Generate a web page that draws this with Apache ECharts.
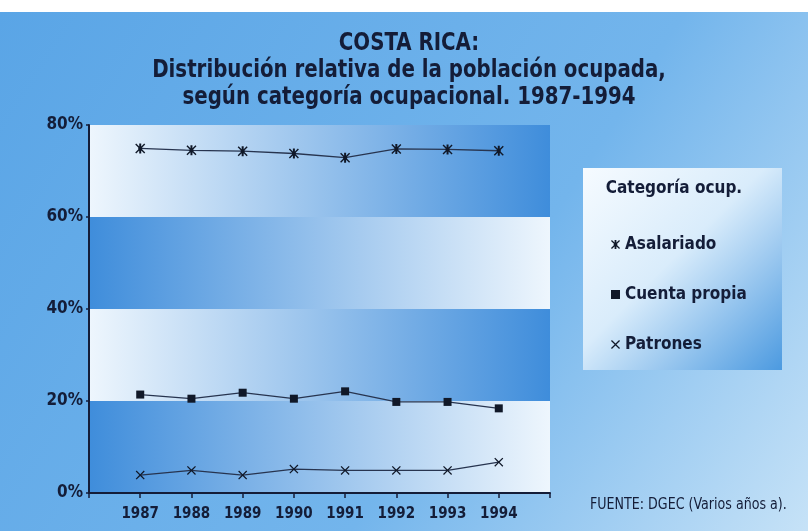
<!DOCTYPE html>
<html>
<head>
<meta charset="utf-8">
<script src="https://cdn.jsdelivr.net/npm/echarts@6/dist/echarts.min.js"></script>
<style>
    html, body { margin: 0; padding: 0; background: #fff; }
    #chart { width: 808px; height: 531px; }
</style>
</head>
<body>
<div id="chart"></div>
<script>
    // datos (porcentaje de la poblacion ocupada)
    var years = [1987, 1988, 1989, 1990, 1991, 1992, 1993, 1994];
    var asalariado = [74.9, 74.5, 74.3, 73.8, 72.9, 74.8, 74.7, 74.4];
    var cuentaPropia = [21.4, 20.5, 21.8, 20.5, 22.1, 19.8, 19.8, 18.4];
    var patrones = [3.9, 4.9, 3.9, 5.2, 4.9, 4.9, 4.9, 6.7];
    var seriesNames = ['Asalariado', 'Cuenta propia', 'Patrones'];

    var font = '"DejaVu Sans Condensed", "Liberation Sans", sans-serif';
    var navy = '#141d38';

    var symAsterisk = 'path://M0,1 L1,0 L5,4 L9,0 L10,1 L6,5 L10,9 L9,10 L5,6 L1,10 L0,9 L4,5 Z M4,0 L6,0 L6,10 L4,10 Z M3,3 L7,3 L7,7 L3,7 Z';
    var symSquare = 'rect';
    var symCross = 'path://M0,1 L1,0 L5,4 L9,0 L10,1 L6,5 L10,9 L9,10 L5,6 L1,10 L0,9 L4,5 Z';

    function pairs(vals) {
        return years.map(function (y, i) { return [y, vals[i]]; });
    }

    function hGrad(c1, c2) {
        return new echarts.graphic.LinearGradient(0, 0, 1, 0, [
            { offset: 0, color: c1 },
            { offset: 1, color: c2 }
        ]);
    }

    var blue = '#3f8ddb';
    var light = '#eef6fd';

    var chart = echarts.init(document.getElementById('chart'));

    var option = {
        animation: false,
        backgroundColor: '#fff',
        graphic: [
            {
                type: 'rect', z: -10,
                shape: { x: 0, y: 12, width: 808, height: 519 },
                style: {
                    fill: new echarts.graphic.LinearGradient(0, 0, 1, 1, [
                        { offset: 0, color: '#5aa5e6' },
                        { offset: 0.6, color: '#73b5ec' },
                        { offset: 1, color: '#c6e2f7' }
                    ])
                }
            },
            {
                type: 'rect', z: -9,
                shape: { x: 583, y: 168, width: 199, height: 202 },
                style: {
                    fill: new echarts.graphic.LinearGradient(0, 0, 1, 1, [
                        { offset: 0, color: '#f6fbff' },
                        { offset: 0.45, color: '#d9ecfb' },
                        { offset: 1, color: '#4c9ae0' }
                    ])
                }
            },
            {
                type: 'text', x: 409, y: 30, scaleX: 0.88,
                style: {
                    text: 'COSTA RICA:\nDistribución relativa de la población ocupada,\nsegún categoría ocupacional. 1987-1994',
                    font: 'bold 25px ' + font,
                    lineHeight: 27,
                    fill: navy,
                    align: 'center',
                    verticalAlign: 'top'
                }
            },
            {
                type: 'text', x: 674, y: 189,
                style: {
                    text: 'Categoría ocup.',
                    font: 'bold 17px ' + font,
                    fill: navy,
                    align: 'center',
                    verticalAlign: 'middle'
                }
            },
            {
                type: 'text', x: 590, y: 505, scaleX: 0.88,
                style: {
                    text: 'FUENTE: DGEC (Varios años a).',
                    font: '16px ' + font,
                    fill: navy,
                    align: 'left',
                    verticalAlign: 'middle'
                }
            }
        ],
        legend: {
            orient: 'vertical',
            left: 606,
            top: 231,
            itemGap: 33,
            itemWidth: 9,
            itemHeight: 9,
            textStyle: { fontFamily: font, fontWeight: 'bold', fontSize: 17, color: navy, lineHeight: 17 },
            data: [
                { name: seriesNames[0], icon: symAsterisk },
                { name: seriesNames[1], icon: symSquare },
                { name: seriesNames[2], icon: symCross }
            ]
        },
        grid: { left: 89, right: 258, top: 125, bottom: 38 },
        xAxis: {
            type: 'value',
            min: 1986,
            max: 1995,
            interval: 1,
            splitLine: { show: false },
            axisLine: { show: true, lineStyle: { color: navy, width: 2 } },
            axisTick: { show: true, length: 5, lineStyle: { color: navy, width: 1.5 } },
            axisLabel: {
                margin: 14,
                fontFamily: font, fontWeight: 'bold', fontSize: 15, color: navy,
                formatter: function (v) { return (v < 1987 || v > 1994) ? '' : String(v); }
            }
        },
        yAxis: {
            type: 'value',
            min: 0,
            max: 80,
            interval: 20,
            splitLine: { show: false },
            splitArea: {
                show: true,
                areaStyle: {
                    color: [hGrad(blue, light), hGrad(light, blue), hGrad(blue, light), hGrad(light, blue)]
                }
            },
            axisLine: { show: true, lineStyle: { color: navy, width: 2 } },
            axisTick: { show: true, length: 3, lineStyle: { color: navy, width: 1.5 } },
            axisLabel: {
                margin: 6,
                fontFamily: font, fontWeight: 'bold', fontSize: 17, color: navy,
                formatter: '{value}%'
            }
        },
        series: [
            {
                name: seriesNames[0], type: 'line', data: pairs(asalariado),
                symbol: symAsterisk, symbolSize: 10,
                itemStyle: { color: '#101828' },
                lineStyle: { color: '#27344f', width: 1.3 }
            },
            {
                name: seriesNames[1], type: 'line', data: pairs(cuentaPropia),
                symbol: symSquare, symbolSize: 8,
                itemStyle: { color: '#101828' },
                lineStyle: { color: '#27344f', width: 1.3 }
            },
            {
                name: seriesNames[2], type: 'line', data: pairs(patrones),
                symbol: symCross, symbolSize: 9,
                itemStyle: { color: '#101828' },
                lineStyle: { color: '#27344f', width: 1.3 }
            }
        ]
    };

    chart.setOption(option);
    window.addEventListener('resize', chart.resize);
</script>
</body>
</html>
